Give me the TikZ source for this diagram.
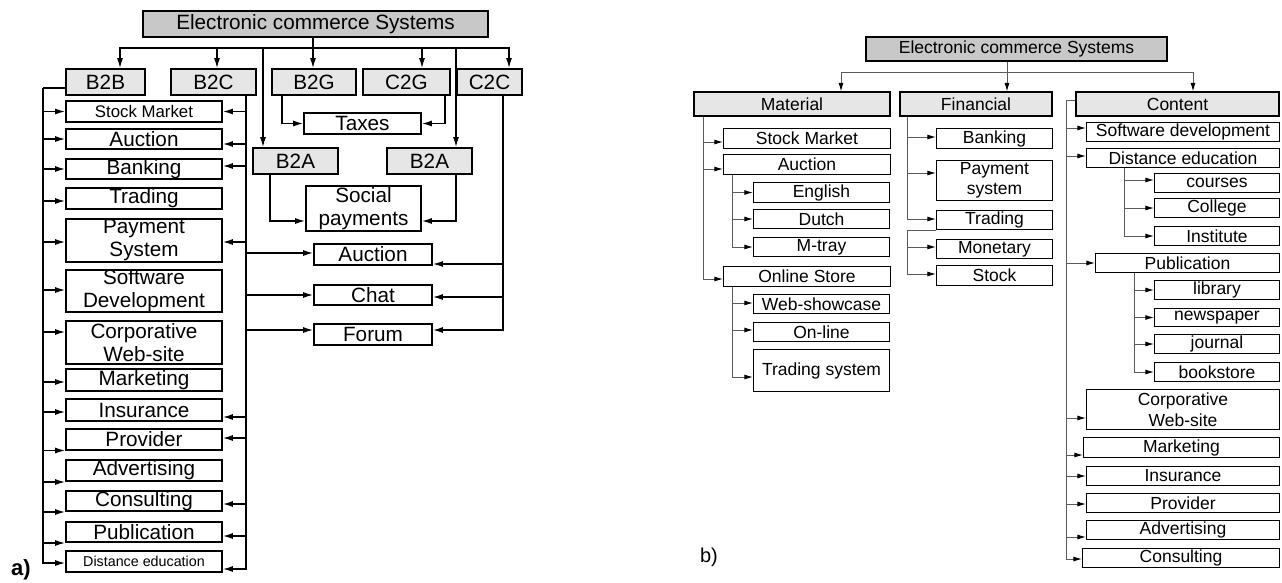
\documentclass[tikz,border=0pt]{standalone}
\usepackage{fontspec}
\setmainfont{Liberation Sans}
\usepackage{tikz}
\usetikzlibrary{arrows,arrows.meta}
\usepackage{xcolor}
\definecolor{topgray}{HTML}{C8C8C8}
\definecolor{midgray}{HTML}{E6E6E6}
\definecolor{linegray}{HTML}{5A5A5A}

\begin{document}
\begin{tikzpicture}[x=1pt,y=-1pt,
    boxa/.style={draw, line width=1.8pt, inner sep=0pt, align=center,
      font=\fontsize{20.7pt}{23pt}\selectfont},
    boxb/.style={draw, line width=1.1pt, inner sep=0pt, align=center,
      font=\fontsize{17.5pt}{20.5pt}\selectfont},
    wa/.style={line width=1.3pt, -{Latex[length=10pt,width=6pt]}},
    wb/.style={line width=1pt, color=linegray, -{Latex[length=8.5pt,width=5pt,color=black]}}]
  \useasboundingbox (0,0) rectangle (1282,582);

  % a)
  \node[boxa, fill=topgray, minimum width=345, minimum height=26] (ecsa) at (315.5,24) {Electronic commerce Systems};
  \node[boxa, fill=midgray, minimum width=79, minimum height=26] (b2b) at (105.5,82) {B2B};
  \node[boxa, fill=midgray, minimum width=85, minimum height=26] (b2c) at (213.5,82) {B2C};
  \node[boxa, fill=midgray, minimum width=84, minimum height=26] (b2g) at (314,82) {B2G};
  \node[boxa, fill=midgray, minimum width=87, minimum height=26] (c2g) at (406.5,82) {C2G};
  \node[boxa, fill=midgray, minimum width=65, minimum height=26] (c2c) at (489.5,82) {C2C};

  \node[boxa, minimum width=156, minimum height=21, font=\fontsize{16.8pt}{19pt}\selectfont] (stock) at (144,111.5) {Stock Market};
  \node[boxa, minimum width=156, minimum height=20] (auca) at (144,139) {Auction};
  \node[boxa, minimum width=156, minimum height=20] (bank) at (144,169) {Banking};
  \node[boxa, minimum width=156, minimum height=21] (trad) at (144,198.5) {Trading};
  \node[boxa, minimum width=156, minimum height=43] (pay) at (144,240.5) {Payment\\System};
  \node[boxa, minimum width=156, minimum height=40] (soft) at (144,291) {Software\\Development};
  \node[boxa, minimum width=156, minimum height=43] (corp) at (144,342.5) {Corporative\\Web-site};
  \node[boxa, minimum width=156, minimum height=22] (mark) at (144,380) {Marketing};
  \node[boxa, minimum width=156, minimum height=22] (insu) at (144,410) {Insurance};
  \node[boxa, minimum width=156, minimum height=21] (prov) at (144,439.5) {Provider};
  \node[boxa, minimum width=156, minimum height=21] (adv) at (144,470.5) {Advertising};
  \node[boxa, minimum width=156, minimum height=20] (cons) at (144,501) {Consulting};
  \node[boxa, minimum width=156, minimum height=20] (publ) at (144,532) {Publication};
  \node[boxa, minimum width=156, minimum height=21, font=\fontsize{14.3pt}{16pt}\selectfont] (dist) at (144,561.5) {Distance education};

  \node[boxa, minimum width=117, minimum height=21] (taxes) at (362.5,123.5) {Taxes};
  \node[boxa, fill=midgray, minimum width=85, minimum height=26] (b2al) at (295.5,161) {B2A};
  \node[boxa, fill=midgray, minimum width=85, minimum height=26] (b2ar) at (429.5,161) {B2A};
  \node[boxa, minimum width=115, minimum height=45] (soc) at (363.5,208.5) {Social\\payments};
  \node[boxa, minimum width=118, minimum height=21] (aucb) at (373,254.5) {Auction};
  \node[boxa, minimum width=118, minimum height=20] (chat) at (373,295) {Chat};
  \node[boxa, minimum width=118, minimum height=21] (forum) at (373,334.5) {Forum};

  \coordinate (busa) at (313,48);
  \draw[wa, -] (ecsa.south -| busa) -- (busa);
  \foreach \n/\d in {b2b/14.5, b2c/3.5, b2g/-1, c2g/15.5, c2c/19.5, b2al/-32.5, b2ar/26.5}
    \draw[wa] (busa) -| ([xshift=\d pt]\n.north);

  \coordinate (bbt) at (43,88);
  \draw[wa, -] ([yshift=-6pt]b2b.west) -- (bbt);
  \foreach \n/\s in {stock/0, auca/0, bank/0, trad/-2.5, pay/-1.5, soft/1, corp/10.5, mark/-2, insu/-2, prov/-11, adv/-11.5, cons/-11, publ/-11, dist/-1.5}
    \draw[wa] (bbt) |- ([yshift=\s pt]\n.west);

  \coordinate (bct) at ([xshift=32.5pt]b2c.south);
  \foreach \n/\s in {stock/0, auca/-5, bank/3, pay/-1.5, insu/-7, prov/1.5, cons/-3, publ/-4, dist/-7.5}
    \draw[wa] (bct) |- ([yshift=\s pt]\n.east);
  \foreach \n/\s in {aucb/1.5, chat/0, forum/4.5}
    \draw[wa] (bct) |- ([yshift=\s pt]\n.west);

  \coordinate (cct) at ([xshift=13.5pt]c2c.south);
  \foreach \n/\s in {aucb/-9.5, chat/-2, forum/4.5}
    \draw[wa] (cct) |- ([yshift=\s pt]\n.east);

  \draw[wa] ([xshift=-32pt]b2g.south) |- (taxes);
  \draw[wa] ([xshift=38.5pt]c2g.south) |- (taxes);
  \draw[wa] ([xshift=-25.5pt]b2al.south) |- ([yshift=-12.5pt]soc.west);
  \draw[wa] ([xshift=26.5pt]b2ar.south) |- ([yshift=-12.5pt]soc.east);

  \node[font=\bfseries\fontsize{22pt}{24pt}\selectfont, inner sep=0pt] (laba) at (21,570) {a)};

  % b)
  \node[boxb, fill=topgray, minimum width=301, minimum height=24] (ecsb) at (1016.5,49) {Electronic commerce Systems};
  \node[boxb, fill=midgray, minimum width=196, minimum height=24] (mat) at (792,104) {Material};
  \node[boxb, fill=midgray, minimum width=152, minimum height=24] (fin) at (976,104) {Financial};
  \node[boxb, fill=midgray, minimum width=203, minimum height=24] (cont) at (1177.5,104) {Content};

  \node[boxb, minimum width=167, minimum height=20] (stockb) at (807,138.5) {Stock Market};
  \node[boxb, minimum width=167, minimum height=20] (aucc) at (807,164.5) {Auction};
  \node[boxb, minimum width=136, minimum height=20] (eng) at (821.5,192.5) {English};
  \node[boxb, minimum width=136, minimum height=19] (dut) at (821.5,219) {Dutch};
  \node[boxb, minimum width=136, minimum height=19] (mtr) at (821.5,247) {M-tray};
  \node[boxb, minimum width=167, minimum height=20] (onl) at (807,276.5) {Online Store};
  \node[boxb, minimum width=136, minimum height=19] (web) at (821.5,304) {Web-showcase};
  \node[boxb, minimum width=136, minimum height=19] (onli) at (821.5,332) {On-line};
  \node[boxb, minimum width=136, minimum height=42] (tsys) at (821.5,370.5) {Trading system};

  \node[boxb, minimum width=116, minimum height=20] (bankb) at (994.5,138.5) {Banking};
  \node[boxb, minimum width=116, minimum height=40] (payb) at (994.5,180.5) {Payment\\system};
  \node[boxb, minimum width=116, minimum height=19] (tradb) at (994.5,220) {Trading};
  \node[boxb, minimum width=116, minimum height=19] (mon) at (994.5,249) {Monetary};
  \node[boxb, minimum width=116, minimum height=20] (stk) at (994.5,275.5) {Stock};

  \node[boxb, minimum width=193, minimum height=19] (swd) at (1183,132) {Software development};
  \node[boxb, minimum width=193, minimum height=19] (dis) at (1183,158) {Distance education};
  \node[boxb, minimum width=125, minimum height=19] (courses) at (1217,183) {courses};
  \node[boxb, minimum width=125, minimum height=19] (coll) at (1217,208) {College};
  \node[boxb, minimum width=125, minimum height=19] (inst) at (1217,236) {Institute};
  \node[boxb, minimum width=184, minimum height=19] (pubb) at (1187.5,263) {Publication};
  \node[boxb, minimum width=125, minimum height=19] (lib) at (1217,290) {library};
  \node[boxb, minimum width=125, minimum height=18] (news) at (1217,317.5) {newspaper};
  \node[boxb, minimum width=125, minimum height=19] (jour) at (1217,344) {journal};
  \node[boxb, minimum width=125, minimum height=19] (book) at (1217,372) {bookstore};
  \node[boxb, minimum width=193, minimum height=40] (corpb) at (1183,409.5) {Corporative\\Web-site};
  \node[boxb, minimum width=196, minimum height=20] (markb) at (1181.5,447.5) {Marketing};
  \node[boxb, minimum width=193, minimum height=19] (insb) at (1183,476) {Insurance};
  \node[boxb, minimum width=193, minimum height=19] (provb) at (1183,503) {Provider};
  \node[boxb, minimum width=193, minimum height=19] (advb) at (1183,530) {Advertising};
  \node[boxb, minimum width=197, minimum height=19] (consb) at (1181,558) {Consulting};

  \coordinate (busb) at (1007,72);
  \draw[wb, -] (ecsb.south -| busb) -- (busb);
  \foreach \n/\d in {mat/49, fin/31, cont/15.5}
    \draw[wb] (busb) -| ([xshift=\d pt]\n.north);

  \coordinate (mt) at ([xshift=10pt]mat.south west);
  \foreach \n/\s in {stockb/-3.5, aucc/-4.5, onl/-2.5}
    \draw[wb] (mt) |- ([yshift=\s pt]\n.west);
  \coordinate (auct) at ([xshift=10pt]aucc.south west);
  \foreach \n in {eng, dut, mtr}
    \draw[wb] (auct) |- (\n);
  \coordinate (onlt) at ([xshift=10pt]onl.south west);
  \foreach \n/\s in {web/1, onli/2, tsys/-6.5}
    \draw[wb] (onlt) |- ([yshift=\s pt]\n.west);

  \coordinate (ft) at ([xshift=8pt]fin.south west);
  \foreach \n/\s in {bankb/1.5, payb/7.5, tradb/1}
    \draw[wb] (ft) |- ([yshift=\s pt]\n.west);
  \coordinate (tradt) at (tradb.south west -| ft);
  \draw[wb, -] (tradb.south west) -- (tradt);
  \foreach \n/\s in {mon/2, stk/1.5}
    \draw[wb] (tradt) |- ([yshift=\s pt]\n.west);

  \coordinate (ctr) at ([xshift=-9pt, yshift=4pt]cont.west);
  \draw[wb, -] ([yshift=4pt]cont.west) -- (ctr);
  \foreach \n/\s in {swd/4, dis/2, pubb/0, corpb/-8.5, markb/-7.5, insb/0, provb/-1, advb/-7, consb/-1}
    \draw[wb] (ctr) |- ([yshift=\s pt]\n.west);
  \coordinate (dedt) at ([xshift=39pt]dis.south west);
  \foreach \n/\s in {courses/3, coll/0, inst/0}
    \draw[wb] (dedt) |- ([yshift=\s pt]\n.west);
  \coordinate (pubt) at ([xshift=40pt]pubb.south west);
  \foreach \n in {lib, news, jour, book}
    \draw[wb] (pubt) |- (\n);

  \node[font=\fontsize{20pt}{22pt}\selectfont, inner sep=0pt] (labb) at (709,557) {b)};
\end{tikzpicture}
\end{document}
